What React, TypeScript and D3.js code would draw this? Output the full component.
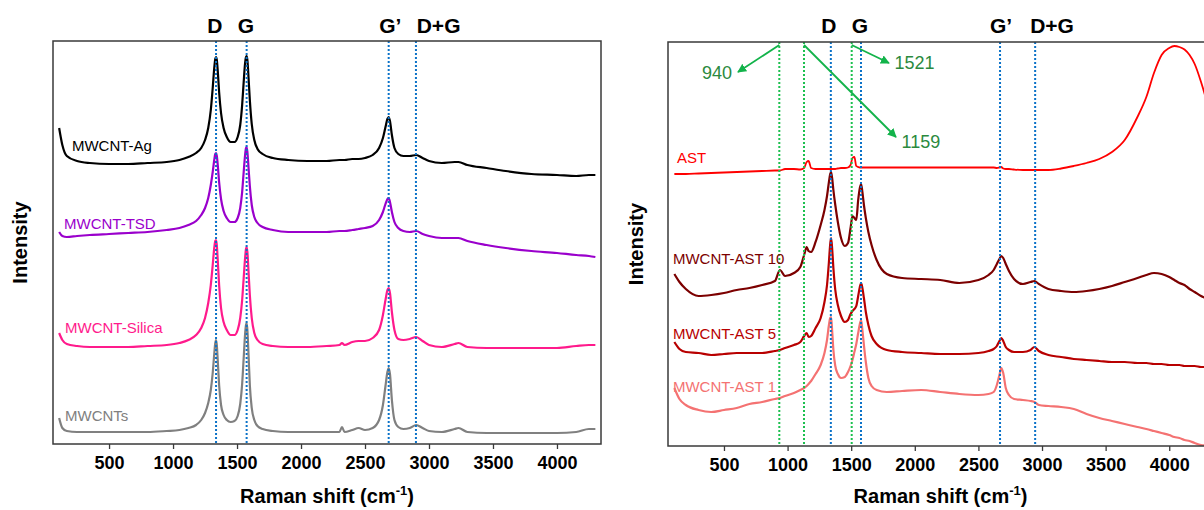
import { useEffect, useRef } from 'react'
import * as d3 from 'd3'

// ── Left panel: Raman shift grid (cm-1) and offset intensities (a.u.) ──
const leftShift = [110, 135, 170, 250, 350, 500, 650, 800, 950, 1050, 1120, 1180, 1220, 1250, 1275, 1295, 1310, 1322, 1330, 1336,
  1342, 1350, 1360, 1375, 1395, 1420, 1450, 1480, 1505, 1525, 1540, 1552, 1563, 1570, 1575, 1581, 1590, 1600, 1615, 1635,
  1660, 1700, 1780, 1900, 2050, 2200, 2300, 2320, 2340, 2400, 2450, 2500, 2560, 2610, 2640, 2660, 2675, 2685, 2695, 2710,
  2730, 2760, 2800, 2850, 2900, 2950, 3000, 3100, 3200, 3230, 3300, 3450, 3600, 3800, 4000, 4150, 4250, 4300]

const mwcntAg = [316, 299, 288, 283, 281, 280, 280, 281, 282, 284, 287, 291, 296, 304, 316, 334, 356, 376, 385, 387,
  384, 372, 352, 331, 316, 307, 302, 302, 307, 319, 339, 362, 381, 387, 388, 384, 366, 344, 320, 304,
  295, 290, 286, 284, 283, 283, 284, 284, 284, 285, 285, 286, 289, 296, 306, 317, 325, 327, 323, 309,
  296, 290, 288, 288, 289, 286, 283, 281, 282, 282, 279, 276, 273, 270, 269, 268, 269, 269]

const mwcntTsd = [212, 208, 207, 208, 209, 210, 211, 212, 214, 216, 219, 223, 229, 236, 246, 259, 272, 284, 290, 291,
  288, 278, 262, 245, 233, 226, 222, 222, 226, 236, 252, 272, 289, 296, 297, 292, 276, 258, 239, 227,
  221, 217, 214, 212, 212, 212, 213, 213, 213, 214, 215, 216, 218, 224, 232, 240, 245, 246, 242, 232,
  222, 216, 213, 212, 213, 210, 208, 206, 206, 206, 203, 199, 196, 193, 191, 189, 188, 187]

const mwcntSilica = [111, 104, 100, 98, 97, 97, 97, 98, 99, 101, 104, 109, 116, 126, 141, 159, 179, 196, 203, 204,
  199, 182, 159, 136, 122, 114, 109, 109, 114, 126, 144, 166, 186, 195, 197, 192, 172, 149, 126, 111,
  104, 100, 98, 97, 97, 98, 99, 101, 99, 102, 103, 103, 106, 114, 129, 144, 154, 156, 151, 132,
  114, 105, 104, 105, 107, 103, 99, 97, 100, 101, 97, 96, 96, 96, 96, 98, 99, 99]

const mwcnts = [26, 16, 13, 12, 12, 12, 12, 12, 13, 14, 16, 19, 24, 31, 41, 54, 71, 90, 101, 104,
  99, 82, 59, 39, 29, 24, 22, 23, 28, 40, 60, 86, 110, 119, 121, 114, 89, 59, 36, 24,
  18, 15, 13, 12, 12, 12, 12, 17, 12, 14, 16, 14, 16, 24, 39, 58, 72, 76, 70, 44,
  24, 17, 15, 16, 19, 16, 13, 12, 15, 16, 12, 11, 11, 11, 11, 12, 15, 15]

// ── Right panel ──
const rightShift = [110, 150, 200, 300, 400, 500, 600, 700, 800, 900, 940, 980, 1050, 1100, 1130, 1150, 1165, 1185, 1220, 1260,
  1290, 1310, 1325, 1335, 1342, 1350, 1360, 1375, 1395, 1420, 1450, 1475, 1495, 1510, 1525, 1540, 1555, 1568, 1578, 1588,
  1600, 1615, 1635, 1660, 1700, 1780, 1900, 2050, 2200, 2350, 2500, 2580, 2620, 2645, 2665, 2680, 2695, 2715, 2740, 2780,
  2850, 2910, 2940, 2975, 3050, 3150, 3250, 3350, 3450, 3550, 3650, 3750, 3820, 3880, 3940, 4000, 4040, 4080, 4120, 4160,
  4200, 4250, 4300, 4340]

const ast = [272, 272, 272, 272.5, 273, 273.5, 274, 274.5, 275, 275.5, 275.5, 277, 277, 276.5, 278, 284, 285, 278, 277, 277,
  277, 277, 277, 277, 277, 277, 277, 277, 277.5, 278, 278, 278.5, 281, 288, 289, 280, 279, 278.5, 278.5, 278.5,
  278.5, 278.5, 278.5, 278.5, 278.5, 278.5, 278.5, 278.5, 278.5, 278.5, 278.5, 278.5, 278.5, 278, 278.5, 279, 277.5, 277, 277, 276.5,
  276, 276, 276, 276, 276, 277.5, 280, 283, 287, 294, 306, 329, 349, 373, 391, 398, 400, 399, 396.5, 391,
  382, 364, 342, 321]

const ast10 = [172, 164, 157, 150, 151, 153, 156, 158, 161, 165, 176, 170, 173, 179, 191, 199, 195, 194, 204, 221,
  236, 250, 264, 272, 274, 268, 256, 241, 224, 208, 200, 203, 218, 230, 228, 226, 246, 258, 262, 254,
  241, 228, 214, 201, 186, 172, 168, 167, 166, 163, 166, 171, 176, 182, 187, 190, 188, 182, 175, 167,
  162, 164, 165, 162, 157, 155, 154, 155, 157, 160, 164, 168, 171, 173, 172, 169, 166, 163, 161, 157,
  154, 150, 147, 144]

const ast5 = [104, 97, 94, 93, 91, 92, 93, 93, 93, 95, 96, 98, 101, 104, 110, 113, 109, 110, 118, 128,
  144, 161, 184, 202, 208, 198, 178, 156, 141, 130, 124, 126, 132, 135, 137, 140, 150, 159, 163, 158,
  148, 134, 121, 110, 102, 96, 94, 93, 92, 92, 93, 95, 97, 100, 105, 108, 105, 99, 96, 94,
  94, 96, 99, 95, 91, 89, 87, 86, 85, 84, 84, 83, 83, 82, 82, 81, 81, 81, 80, 80,
  80, 79, 79, 79]

const ast1 = [58, 47, 41, 36, 34, 36, 38, 42, 44, 47, 48, 50, 53, 56, 58, 60, 62, 65, 72, 81,
  93, 106, 121, 128, 129, 116, 96, 80, 72, 68, 69, 74, 80, 86, 94, 102, 113, 122, 126, 116,
  101, 84, 68, 60, 56, 54, 55, 56, 54, 52, 51, 52, 54, 61, 71, 78, 73, 58, 51, 47,
  46, 45, 44, 41, 40, 39, 37, 32, 28, 25, 22, 19, 17, 15, 13, 11, 9, 8, 6, 5,
  3, 1, 0.5, 0.5]

const xTicks = [500, 1000, 1500, 2000, 2500, 3000, 3500, 4000]

// band positions (dotted lines) and their header labels
const leftBands = [1336, 1575, 2685, 2898]
const rightBands = [1340, 1577, 2670, 2946]
const rightExtraBands = [935, 1129, 1504]
const bandNames = ['D', 'G', 'G’', 'D+G']
const leftBandLabelX = [1326, 1570, 2698, 3075]
const rightBandLabelX = [1324, 1568, 2678, 3079]

const leftNames = ['MWCNT-Ag', 'MWCNT-TSD', 'MWCNT-Silica', 'MWCNTs']
const leftColors = ['#000000', '#9a00cc', '#ff1a8c', '#808080']
const leftNameAt = [[210, 298], [148, 220], [156, 116], [156, 28]]

const rightNames = ['AST', 'MWCNT-AST 10', 'MWCNT-AST 5', 'MWCNT-AST 1']
const rightColors = ['#ff0000', '#7c0000', '#b80000', '#f47272']
const rightNameAt = [[131, 288], [99, 187], [99, 112], [99, 59]]

// green call-outs: [fromShift, fromI, toShift, toI, label, labelShift, labelI]
const callouts: [number, number, number, number, string, number, number][] = [
  [935, 401, 610, 374, '940', 445, 373],
  [1129, 401, 1852, 309, '1159', 2048, 304],
  [1504, 401, 1797, 383, '1521', 1998, 383],
]

const FONT = '"Liberation Sans", Arial, Helvetica, sans-serif'
const BLUE = '#0b72c8'
const GREEN = '#12b34a'

export default function App() {
  const svgRef = useRef<SVGSVGElement>(null)

  useEffect(() => {
    const svg = d3.select(svgRef.current)
    svg.selectAll('*').remove()

    svg.append('defs').append('marker')
      .attr('id', 'arrowG').attr('viewBox', '0 0 10 10').attr('refX', 9).attr('refY', 5)
      .attr('markerWidth', 5).attr('markerHeight', 5).attr('orient', 'auto')
      .append('path').attr('d', 'M0,0L10,5L0,10z').attr('fill', GREEN)

    const panels = [
      { id: 'L', box: [53, 601, 41, 444], dom: [62, 4344], yMax: 403, shift: leftShift,
        series: [mwcntAg, mwcntTsd, mwcntSilica, mwcnts], names: leftNames, colors: leftColors, nameAt: leftNameAt,
        bands: leftBands, labelX: leftBandLabelX, extra: [] as number[], yTitleX: 20 },
      { id: 'R', box: [668, 1213, 42, 446], dom: [60, 4344], yMax: 404, shift: rightShift,
        series: [ast, ast10, ast5, ast1], names: rightNames, colors: rightColors, nameAt: rightNameAt,
        bands: rightBands, labelX: rightBandLabelX, extra: rightExtraBands, yTitleX: 636 },
    ]

    for (const p of panels) {
      const [x0, x1, y0, y1] = p.box
      const x = d3.scaleLinear().domain(p.dom).range([x0, x1])
      const y = d3.scaleLinear().domain([0, p.yMax]).range([y1, y0])

      svg.append('clipPath').attr('id', `clip${p.id}`)
        .append('rect').attr('x', x0).attr('y', y0).attr('width', x1 - x0).attr('height', y1 - y0)

      const plot = svg.append('g').attr('clip-path', `url(#clip${p.id})`)
      const line = d3.line<number>().x((_, i) => x(p.shift[i])).y(d => y(d)).curve(d3.curveMonotoneX)
      p.series.forEach((s, k) => {
        plot.append('path').datum(s).attr('fill', 'none').attr('stroke', p.colors[k])
          .attr('stroke-width', p.id === 'R' && k === 0 ? 1.8 : 2.2).attr('stroke-linejoin', 'round').attr('d', line)
      })

      // dotted markers over the spectra
      for (const b of p.extra) {
        plot.append('line').attr('x1', x(b)).attr('x2', x(b)).attr('y1', y0).attr('y2', y1)
          .attr('stroke', '#1cc04f').attr('stroke-width', 2).attr('stroke-dasharray', '2,2')
      }
      for (const b of p.bands) {
        plot.append('line').attr('x1', x(b)).attr('x2', x(b)).attr('y1', y0).attr('y2', y1)
          .attr('stroke', BLUE).attr('stroke-width', 2).attr('stroke-dasharray', '2,2')
      }

      // series names
      p.names.forEach((n, k) => {
        svg.append('text').attr('x', x(p.nameAt[k][0])).attr('y', y(p.nameAt[k][1])).attr('dy', '0.35em')
          .attr('fill', p.colors[k]).attr('font-family', FONT).attr('font-size', 15).text(n)
      })

      // band header labels
      bandNames.forEach((n, k) => {
        svg.append('text').attr('x', x(p.labelX[k])).attr('y', 33).attr('text-anchor', 'middle')
          .attr('font-family', FONT).attr('font-weight', 'bold').attr('font-size', 21).attr('fill', '#000').text(n)
      })

      // frame
      svg.append('rect').attr('x', x0).attr('y', y0).attr('width', x1 - x0).attr('height', y1 - y0)
        .attr('fill', 'none').attr('stroke', '#3a3a3a').attr('stroke-width', 1.5)

      // x axis
      svg.append('g').attr('transform', `translate(0,${y1})`)
        .call(d3.axisBottom(x).tickValues(xTicks).tickSize(5).tickPadding(7).tickFormat(d3.format('d')))
        .call(g => {
          g.select('.domain').remove()
          g.selectAll('.tick line').attr('stroke', '#3a3a3a').attr('stroke-width', 1.3)
          g.selectAll('.tick text').attr('fill', '#000').attr('font-size', 18).attr('font-weight', 'bold').attr('font-family', FONT)
        })

      const title = svg.append('text').attr('x', (x0 + x1) / 2).attr('y', 503).attr('text-anchor', 'middle')
        .attr('font-family', FONT).attr('font-weight', 'bold').attr('font-size', 20).attr('fill', '#000')
      title.append('tspan').text('Raman shift (cm')
      title.append('tspan').attr('dy', -8).attr('font-size', 13).text('-1')
      title.append('tspan').attr('dy', 8).text(')')

      svg.append('text').attr('transform', `translate(${p.yTitleX},${(y0 + y1) / 2}) rotate(-90)`)
        .attr('text-anchor', 'middle').attr('dy', '0.35em')
        .attr('font-family', FONT).attr('font-weight', 'bold').attr('font-size', 20).attr('fill', '#000').text('Intensity')

      if (p.id === 'R') {
        for (const [fx, fy, tx, ty, lbl, lx, ly] of callouts) {
          svg.append('line').attr('x1', x(fx)).attr('y1', y(fy)).attr('x2', x(tx)).attr('y2', y(ty))
            .attr('stroke', GREEN).attr('stroke-width', 1.8).attr('marker-end', 'url(#arrowG)')
          svg.append('text').attr('x', x(lx)).attr('y', y(ly)).attr('dy', '0.35em').attr('text-anchor', 'middle')
            .attr('font-family', FONT).attr('font-size', 18).attr('fill', '#2b8a3e').text(lbl)
        }
      }
    }
  }, [])

  return (
    <div style={{ position: 'absolute', left: 0, top: 0, width: 1204, height: 510, overflow: 'hidden', background: '#fff' }}>
      <svg ref={svgRef} width={1204} height={510} style={{ display: 'block' }} />
    </div>
  )
}
